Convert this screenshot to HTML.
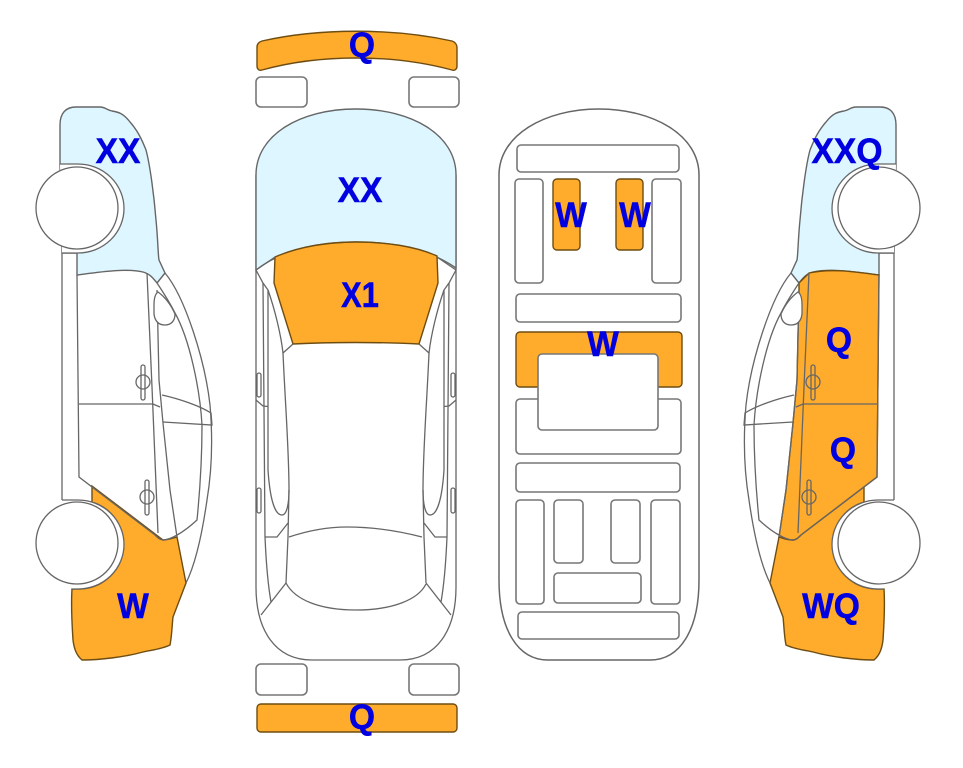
<!DOCTYPE html>
<html><head><meta charset="utf-8"><style>
html,body{margin:0;padding:0;background:#fff}
svg{display:block}
text{font-family:"Liberation Sans",Arial,sans-serif;font-weight:700;font-size:35px;fill:#0000e0;stroke:#0000e0;stroke-width:.5;text-anchor:middle}
.l{fill:none;stroke:#666;stroke-width:1.3}
.r{fill:#fff;stroke:#777;stroke-width:1.6}
.o{fill:#ffab2b;stroke:#6e4d12;stroke-width:1.4}
.b{fill:#ddf6ff;stroke:#666;stroke-width:1.4}
</style></head><body>
<svg width="963" height="768" viewBox="0 0 963 768" xmlns="http://www.w3.org/2000/svg">
<defs>
<path id="blue" class="b" d="M60,165 L60,125 C60,113 66,107 76,107 L100,107 C105,107 107,110 112,111 C118,112 123,113 130,122 C138,131 142,140 146,150 C150,165 154,195 156,220 C158,240 158,255 159,260 L165,273 L157,283 C153,278 150,274 143,272 C125,268 100,272 77,275 L77,253 L62,253 Z"/>
<path id="worange" class="o" d="M92,486 L163,540 C167,540 173,538 177,537 L186,583 L173,617 C172,625 172,635 170,645 C162,649 152,650 143,652 C125,657 100,660 82,660 C76,655 74,648 73,640 C72,625 71,605 72,589 L78,589 A45,44.5 0 0 0 92,502 Z"/>
<g id="side">
<path class="l" d="M62,253 L62,500"/>
<path class="l" d="M77,275 L79,477 L155,535 C158,538 160,540 163,540 C170,540 183,533 197,520 C200,490 202,460 202,425 C200,390 190,340 175,313 C170,303 163,292 157,283"/>
<path class="l" d="M79,404 L153,404 L160,407"/>
<path class="l" d="M147,273 L152,387 L158,533"/>
<path class="l" d="M157,290 L159,380 L163,423 L170,490 L177,537"/>
<path class="l" d="M157,283 L165,273 C185,297 205,360 210,405 C213,440 212,470 207,500 C202,535 195,565 186,583"/>
<path class="l" d="M162,395 C180,399 200,406 211,413 L212,425 C195,424 178,423 163,422"/>
<path class="l" style="fill:#fff" d="M158,292 C155,294 154,298 154,305 L154,314 C155,322 159,325 165,325 C171,325 175,321 175,314 C171,305 165,297 158,292 Z"/>
<rect class="l" x="141" y="365" width="4" height="35" rx="2"/>
<circle class="l" cx="143" cy="382" r="7"/>
<rect class="l" x="145" y="480" width="4" height="35" rx="2"/>
<circle class="l" cx="147" cy="497" r="7"/>
<path class="l" style="fill:#fff" d="M60,164 L78,164 A46,44.5 0 0 1 78,253 L62,253"/>
<path class="l" style="fill:#fff" d="M62,500 L78,500 A46,44.5 0 0 1 78,589 L72,589"/>
<circle class="l" style="fill:#fff" cx="77" cy="208" r="41"/>
<circle class="l" style="fill:#fff" cx="77" cy="543" r="41"/>
</g>
<g id="tophalf">
<path class="l" d="M256,270 L275,257"/>
<path class="l" d="M256,270 L263,283 L268,290 C275,310 281,335 283,353 L293,344"/>
<path class="l" d="M283,353 C285,400 289,450 289,490 L288,537 L286,583"/>
<path class="l" d="M263,283 L265,537 C266,560 268,585 271,602"/>
<path class="l" d="M268,290 L268,470 C270,500 275,515 282,515 C287,515 289,503 289,490"/>
<rect class="l" x="257" y="373" width="4" height="24" rx="2"/>
<rect class="l" x="257" y="488" width="4" height="25" rx="2"/>
<path class="l" d="M256,400 L263,406 L268,406.500"/>
<path class="l" d="M265,537 L277,537 L288,523"/>
<path class="l" d="M286,583 L261,615"/>
</g>
</defs>

<!-- left car -->
<use href="#blue"/>
<use href="#worange"/>
<use href="#side"/>

<!-- right car -->
<g transform="translate(956,0) scale(-1,1)">
<use href="#blue"/>
<use href="#worange"/>
<path class="o" d="M157,283 L147,273 C125,268 100,272 77,275 L79,477 L155,535 C158,538 160,540 163,540 C170,540 173,538 177,537 L170,490 L163,423 L159,380 L157,290 Z"/>
<use href="#side"/>
</g>

<!-- top car -->
<path class="o" d="M262,41 C320,28 392,28 452,41 C455,42 457,44 457,48 L457,66 C457,69 455,71 452,70 C392,54 320,54 262,70 C259,71 257,69 257,66 L257,47 C257,44 259,42 262,41 Z"/>
<rect class="r" x="256" y="77" width="51" height="30" rx="5"/>
<rect class="r" x="409" y="77" width="50" height="30" rx="5"/>
<path class="l" d="M256,175 L256,587 C256,630 275,660 312,660 L400,660 C437,660 456,630 456,587 L456,175"/>
<path class="b" d="M256,270 L256,175 C256,135 300,109 356,109 C412,109 456,135 456,175 L456,268 C430,250 395,242 356,242 C317,242 282,250 256,270 Z"/>
<path class="o" d="M275,257 C300,246 330,242 356,242 C385,242 415,246 437,256 L438,283 L419,344 C380,342 330,342 293,344 L274,283 Z"/>
<use href="#tophalf"/>
<use href="#tophalf" transform="translate(712,0) scale(-1,1)"/>
<path class="l" d="M289,537 C310,530 328,527 347,527 C370,527 395,530 422,537"/>
<path class="l" d="M286,583 C295,600 320,610 356,610 C392,610 418,600 426,584"/>
<rect class="r" x="256" y="664" width="51" height="31" rx="5"/>
<rect class="r" x="409" y="664" width="50" height="31" rx="5"/>
<rect class="o" x="257" y="704" width="200" height="28" rx="4"/>

<!-- bottom view -->
<path class="l" style="stroke-width:1.5" d="M499,175 C499,135 545,109 599,109 C653,109 699,135 699,175 L699,580 C699,630 680,660 650,660 L548,660 C518,660 499,630 499,580 Z"/>
<rect class="r" x="517" y="145" width="162" height="27" rx="4"/>
<rect class="r" x="515" y="179" width="28" height="104" rx="4"/>
<rect class="o" x="553" y="179" width="27" height="71" rx="4"/>
<rect class="o" x="616" y="179" width="27" height="71" rx="4"/>
<rect class="r" x="652" y="179" width="29" height="104" rx="4"/>
<rect class="r" x="516" y="294" width="165" height="28" rx="4"/>
<rect class="o" x="516" y="332" width="166" height="55" rx="4"/>
<rect class="r" x="516" y="399" width="165" height="55" rx="4"/>
<rect class="r" x="538" y="354" width="120" height="76" rx="4"/>
<rect class="r" x="516" y="463" width="164" height="29" rx="4"/>
<rect class="r" x="516" y="500" width="28" height="104" rx="4"/>
<rect class="r" x="554" y="500" width="29" height="63" rx="4"/>
<rect class="r" x="611" y="500" width="29" height="63" rx="4"/>
<rect class="r" x="651" y="500" width="29" height="104" rx="4"/>
<rect class="r" x="554" y="573" width="87" height="30" rx="4"/>
<rect class="r" x="518" y="612" width="161" height="27" rx="4"/>

<!-- labels -->
<text transform="translate(118,163) scale(.96,1)">XX</text>
<text transform="translate(362,57) scale(.96,1)">Q</text>
<text transform="translate(360,202) scale(.96,1)">XX</text>
<text transform="translate(360,307) scale(.88,1)">X1</text>
<text transform="translate(133,618) scale(.96,1)">W</text>
<text transform="translate(362,729) scale(.96,1)">Q</text>
<text transform="translate(571,227) scale(.96,1)">W</text>
<text transform="translate(635,227) scale(.96,1)">W</text>
<text transform="translate(603,356) scale(.96,1)">W</text>
<text transform="translate(847,163) scale(.96,1)">XXQ</text>
<text transform="translate(839,352) scale(.96,1)">Q</text>
<text transform="translate(843,462) scale(.96,1)">Q</text>
<text transform="translate(831,618) scale(.96,1)">WQ</text>
</svg>
</body></html>
